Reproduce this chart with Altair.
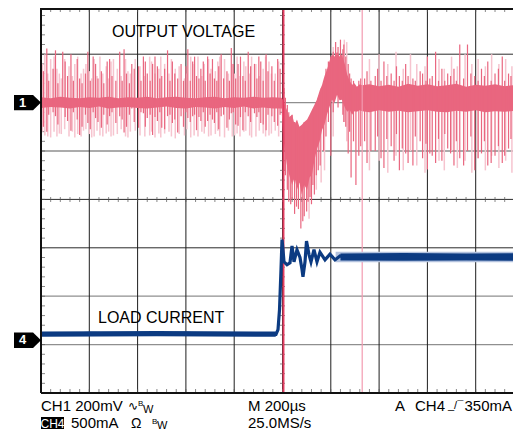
import altair as alt
import pandas as pd

# ---------------- data (screen divisions: x 0..10 at 200 us/div, y 0..8) ----------------
# CH1 (output voltage) dense trace envelope
ch1_band_x = [0, 0.2, 0.4, 0.6, 0.8, 1.0, 1.2, 1.4, 1.6, 1.8, 2.0, 2.2, 2.4, 2.6, 2.8,
              3.0, 3.2, 3.4, 3.6, 3.8, 4.0, 4.2, 4.4, 4.6, 4.8,
              4.98,
              5.01, 5.05, 5.09, 5.14, 5.20, 5.25, 5.30, 5.35, 5.40, 5.45,
              5.51, 5.56, 5.61, 5.66, 5.71, 5.77, 5.82, 5.87, 5.92, 5.97,
              6.02, 6.08, 6.13, 6.18, 6.23, 6.29, 6.34, 6.39, 6.44, 6.49,
              6.54, 6.60, 6.65,
              6.8, 7.0, 7.2, 7.4, 7.6, 7.8, 8.0, 8.2, 8.4, 8.6, 8.8, 9.0, 9.2, 9.4, 9.6, 9.8, 10.0]
ch1_band_lo = [5.89, 5.91, 5.90, 5.88, 5.91, 5.89, 5.92, 5.88, 5.90, 5.91,
               5.89, 5.88, 5.90, 5.92, 5.89, 5.88, 5.91, 5.90, 5.88, 5.91,
               5.89, 5.92, 5.88, 5.90, 5.88,
               5.88,
               5.34, 5.00, 4.72, 4.50, 4.30, 4.45, 4.20, 4.35, 4.10, 4.30,
               4.20, 4.45, 4.51, 4.80, 5.03, 5.20, 5.44, 5.55, 5.75, 5.90,
               6.06, 6.00, 6.16, 6.05, 6.06, 5.90, 5.81, 5.85, 5.75, 5.82,
               5.81, 5.84, 5.82,
               5.80, 5.84, 5.81, 5.83, 5.80, 5.82, 5.84, 5.81, 5.80, 5.83, 5.81, 5.84,
               5.80, 5.82, 5.81, 5.83, 5.82]
ch1_band_hi = [6.11, 6.09, 6.12, 6.10, 6.09, 6.11, 6.10, 6.12, 6.09, 6.11,
               6.10, 6.12, 6.09, 6.11, 6.12, 6.10, 6.09, 6.11, 6.12, 6.09,
               6.11, 6.10, 6.12, 6.10, 6.11,
               6.10,
               6.06, 5.95, 5.85, 5.70, 5.75, 5.55, 5.65, 5.50, 5.54, 5.60,
               5.65, 5.75, 5.85, 5.95, 6.06, 6.25, 6.37, 6.55, 6.68, 6.85,
               6.99, 6.95, 7.05, 6.95, 6.99, 6.80, 6.58, 6.45, 6.37, 6.40,
               6.33, 6.38, 6.36,
               6.38, 6.34, 6.37, 6.33, 6.39, 6.35, 6.38, 6.34, 6.36, 6.39, 6.33, 6.37,
               6.35, 6.38, 6.34, 6.36, 6.37]

# CH1 noise spikes (x, top, bottom) - saturated persistence
ch1_dark_spikes = [
    # before the load step
    (0.05, 6.65, 5.50), (0.12, 7.12, 5.40), (0.16, 6.45, 5.75), (0.25, 6.70, 5.80),
    (0.30, 7.08, 5.72), (0.35, 6.40, 5.55), (0.45, 7.05, 5.95), (0.50, 6.85, 5.70),
    (0.55, 6.55, 5.62), (0.62, 7.00, 5.42), (0.67, 6.45, 5.80), (0.75, 6.90, 5.65),
    (0.80, 6.50, 5.33), (0.85, 6.40, 5.50), (0.92, 6.60, 5.75), (0.97, 7.05, 5.58),
    (1.02, 6.45, 5.45), (1.08, 6.95, 5.80), (1.13, 6.80, 5.68), (1.18, 6.50, 5.60),
    (1.25, 6.65, 5.48), (1.30, 6.40, 5.75), (1.37, 6.85, 5.55), (1.42, 6.90, 5.72),
    (1.47, 6.55, 5.80), (1.55, 6.45, 5.58), (1.63, 7.05, 5.72), (1.68, 6.45, 5.65),
    (1.72, 7.10, 5.38), (1.77, 6.60, 5.50), (1.83, 6.40, 5.75), (1.88, 6.80, 5.88),
    (1.93, 6.70, 5.60), (2.02, 6.75, 5.48), (2.07, 6.45, 5.80), (2.12, 6.95, 5.78),
    (2.16, 6.85, 5.50), (2.20, 6.60, 5.68), (2.26, 6.45, 5.75), (2.31, 6.80, 5.33),
    (2.36, 6.95, 5.70), (2.41, 6.75, 5.62), (2.46, 6.50, 5.80), (2.50, 6.55, 5.48),
    (2.56, 6.70, 5.45), (2.62, 7.08, 5.72), (2.67, 6.45, 5.75), (2.72, 6.85, 5.58),
    (2.77, 6.60, 5.65), (2.83, 6.50, 5.38), (2.90, 6.80, 5.72), (2.95, 6.45, 5.50),
    (3.00, 6.75, 5.80), (3.04, 7.10, 5.68), (3.09, 6.45, 5.60), (3.14, 6.85, 5.72),
    (3.18, 6.95, 5.75), (3.22, 6.55, 5.43), (3.27, 6.50, 5.70), (3.31, 6.70, 5.62),
    (3.36, 6.85, 5.80), (3.40, 6.45, 5.50), (3.45, 6.95, 5.62), (3.50, 6.60, 5.75),
    (3.55, 6.90, 5.65), (3.59, 6.50, 5.58), (3.64, 6.45, 5.80), (3.68, 6.75, 5.45),
    (3.73, 7.00, 5.72), (3.78, 6.50, 5.75), (3.85, 6.65, 5.48), (3.90, 6.45, 5.65),
    (3.94, 7.13, 5.78), (3.98, 6.80, 5.80), (4.03, 6.50, 5.55), (4.08, 6.80, 5.52),
    (4.13, 6.95, 5.70), (4.18, 6.55, 5.43), (4.23, 6.45, 5.80), (4.29, 7.05, 5.72),
    (4.34, 6.75, 5.60), (4.42, 6.80, 5.78), (4.47, 6.50, 5.70), (4.51, 6.95, 5.80),
    (4.55, 6.85, 5.58), (4.60, 6.45, 5.55), (4.66, 7.00, 5.43), (4.70, 6.65, 5.75),
    (4.78, 6.75, 5.72), (4.83, 6.45, 5.60), (4.90, 6.90, 5.52), (4.95, 6.70, 5.75),
    # load-step transient
    (5.03, 6.30, 4.60), (5.06, 6.10, 4.50), (5.10, 5.95, 4.20), (5.13, 5.80, 3.95),
    (5.17, 5.50, 3.90), (5.20, 5.75, 4.00), (5.25, 5.60, 3.70), (5.29, 5.50, 3.85),
    (5.33, 5.45, 3.80), (5.38, 5.20, 3.40), (5.42, 5.40, 3.55), (5.45, 5.60, 3.65),
    (5.50, 5.40, 3.75), (5.53, 5.50, 3.95), (5.57, 5.65, 4.05), (5.60, 5.60, 3.90),
    (5.63, 5.85, 4.30), (5.66, 5.70, 4.10), (5.70, 6.00, 4.50), (5.74, 6.10, 4.60),
    (5.78, 6.20, 4.70), (5.85, 6.45, 5.00), (5.90, 6.70, 5.30), (5.95, 6.85, 5.60),
    (6.00, 6.95, 4.90), (6.05, 7.05, 5.80), (6.10, 7.25, 6.30), (6.15, 7.15, 5.90),
    (6.20, 7.30, 6.25), (6.25, 7.10, 5.75), (6.27, 7.20, 5.60), (6.31, 6.95, 5.50),
    (6.36, 6.80, 4.95), (6.39, 6.60, 5.40), (6.42, 6.50, 4.45), (6.47, 6.45, 5.20),
    (6.52, 6.30, 4.30), (6.58, 6.45, 4.90), (6.62, 6.50, 5.10),
    # after the transient
    (6.70, 6.50, 5.20), (6.75, 6.65, 4.75), (6.83, 6.45, 5.00), (6.92, 6.55, 5.00),
    (6.97, 6.70, 5.30), (7.04, 6.45, 4.85), (7.10, 6.85, 4.65), (7.16, 6.55, 5.25),
    (7.25, 6.60, 5.10), (7.31, 6.45, 4.80), (7.36, 6.75, 5.35), (7.42, 6.55, 4.60),
    (7.48, 6.45, 5.05), (7.55, 6.80, 4.95), (7.60, 6.55, 4.75), (7.70, 6.50, 4.70),
    (7.75, 6.45, 5.30), (7.85, 6.65, 5.20), (7.90, 6.60, 4.85), (7.97, 6.45, 5.15),
    (8.00, 6.95, 4.62), (8.05, 6.50, 4.95), (8.10, 6.55, 4.90), (8.17, 7.05, 4.75),
    (8.23, 6.45, 5.25), (8.30, 6.70, 4.80), (8.36, 6.45, 5.35), (8.42, 6.60, 5.05),
    (8.48, 6.55, 4.95), (8.55, 6.70, 4.70), (8.60, 6.45, 5.20), (8.67, 7.20, 4.85),
    (8.75, 6.50, 4.70), (8.83, 7.20, 5.00), (8.90, 6.60, 5.30), (8.98, 6.55, 4.60),
    (9.05, 6.45, 4.85), (9.12, 6.70, 4.95), (9.18, 6.55, 5.20), (9.25, 6.85, 4.70),
    (9.32, 6.45, 4.75), (9.40, 6.60, 4.90), (9.47, 6.70, 5.10), (9.55, 6.95, 4.75),
    (9.60, 6.45, 4.90), (9.68, 6.60, 5.05), (9.73, 6.55, 5.25), (9.80, 6.90, 4.60),
    (9.86, 6.45, 4.80), (9.92, 7.20, 4.90),
]
# CH1 faint persistence spikes (x, top, bottom)
ch1_light_spikes = [
    (0.03, 6.80, 5.40), (0.08, 7.00, 5.32), (0.14, 6.60, 5.30), (0.20, 6.90, 5.28),
    (0.27, 6.95, 5.40), (0.33, 6.70, 5.30), (0.38, 6.60, 5.36), (0.42, 6.50, 5.35),
    (0.49, 6.90, 5.45), (0.58, 6.75, 5.30), (0.65, 6.55, 5.40), (0.70, 6.80, 5.28),
    (0.76, 6.95, 5.35), (0.83, 6.60, 5.30), (0.88, 6.70, 5.42), (0.93, 6.80, 5.45),
    (1.00, 6.65, 5.35), (1.05, 6.50, 5.28), (1.10, 6.90, 5.30), (1.16, 6.55, 5.42),
    (1.22, 6.95, 5.32), (1.28, 6.60, 5.30), (1.35, 6.75, 5.36), (1.40, 6.50, 5.40),
    (1.45, 6.85, 5.30), (1.50, 6.90, 5.32), (1.58, 6.70, 5.35), (1.66, 6.55, 5.45),
    (1.75, 6.90, 5.30), (1.80, 6.65, 5.28), (1.85, 6.60, 5.40), (1.95, 6.90, 5.42),
    (2.05, 6.75, 5.32), (2.15, 6.55, 5.30), (2.25, 6.95, 5.32), (2.29, 6.85, 5.40),
    (2.36, 6.60, 5.28), (2.44, 6.70, 5.36), (2.48, 6.95, 5.28), (2.56, 6.80, 5.36),
    (2.65, 6.60, 5.40), (2.70, 6.90, 5.30), (2.78, 6.70, 5.26), (2.86, 6.75, 5.35),
    (2.97, 6.50, 5.32), (3.02, 6.60, 5.45), (3.10, 6.95, 5.28), (3.17, 6.80, 5.32),
    (3.25, 6.95, 5.30), (3.33, 6.55, 5.40), (3.38, 6.80, 5.36), (3.47, 6.90, 5.30),
    (3.52, 6.70, 5.32), (3.61, 6.65, 5.35), (3.66, 6.85, 5.42), (3.70, 6.95, 5.30),
    (3.80, 6.90, 5.28), (3.88, 6.60, 5.42), (3.96, 6.80, 5.30), (4.01, 6.60, 5.32),
    (4.06, 6.95, 5.36), (4.12, 6.55, 5.30), (4.20, 6.85, 5.40), (4.24, 6.75, 5.42),
    (4.32, 6.60, 5.32), (4.36, 6.95, 5.28), (4.45, 6.80, 5.30), (4.52, 6.55, 5.42),
    (4.60, 6.70, 5.36), (4.65, 6.95, 5.30), (4.72, 6.85, 5.32), (4.77, 6.60, 5.36),
    (4.85, 6.60, 5.42), (4.92, 6.85, 5.30),
    (5.55, 5.50, 3.60), (5.70, 5.90, 4.20), (5.80, 6.30, 4.35), (5.87, 6.50, 4.60),
    (6.05, 7.15, 5.30), (6.28, 7.30, 5.60), (6.33, 7.25, 5.20),
    (6.80, 6.90, 4.60), (7.00, 7.00, 4.80), (7.18, 6.80, 4.55), (7.35, 7.05, 4.90),
    (7.50, 6.70, 4.60), (7.65, 7.00, 5.00), (7.78, 6.80, 4.70), (7.95, 6.75, 4.55),
    (8.24, 6.90, 4.80), (8.35, 6.70, 4.60), (8.50, 6.95, 5.00), (8.62, 6.75, 4.65),
    (8.78, 7.00, 4.80), (8.92, 6.80, 4.55), (9.05, 6.90, 4.85), (9.20, 6.75, 4.60),
    (9.33, 7.00, 4.90), (9.48, 6.80, 4.65), (9.62, 6.90, 4.80), (9.75, 6.75, 4.55),
    (9.88, 6.95, 4.85),
]

# CH4 (load current) trace
ch4_x = [0, 0.5, 1.0, 1.5, 2.0, 2.5, 3.0, 3.5, 4.0, 4.5,
         4.865, 4.907, 4.938, 4.969, 4.990, 5.010, 5.031, 5.093, 5.155, 5.197, 5.238,
         5.300, 5.362, 5.404, 5.424, 5.466, 5.497, 5.549, 5.590, 5.652, 5.714, 5.776,
         5.880, 5.983, 6.087, 6.190, 6.398,
         6.8, 7.2, 7.6, 8.0, 8.4, 8.8, 9.2, 9.6, 10.0]
ch4_y = [1.22, 1.21, 1.23, 1.22, 1.21, 1.22, 1.23, 1.21, 1.22, 1.22,
         1.21, 1.31, 1.72, 2.55, 3.17, 2.96, 2.71, 2.65, 2.69, 3.04, 2.71,
         2.96, 2.80, 2.55, 2.40, 2.71, 3.14, 2.86, 2.71, 2.96, 2.71, 2.91,
         2.75, 2.87, 2.75, 2.83, 2.79,
         2.81, 2.79, 2.82, 2.80, 2.79, 2.81, 2.80, 2.82, 2.80]
ch4_band_seg = ["pre", "pre", "pre", "post", "post", "post", "post"]
ch4_band_x = [0, 2.4, 4.86, 6.2, 7.5, 8.8, 10.0]
ch4_band_lo = [1.16, 1.17, 1.16, 2.74, 2.73, 2.74, 2.73]
ch4_band_hi = [1.27, 1.28, 1.27, 2.88, 2.89, 2.88, 2.89]
ch4_halo_x = [6.1, 10.0]
ch4_halo_lo = [2.70, 2.70]
ch4_halo_hi = [2.92, 2.92]

trigger_x = [5.02]
cursor_x = [6.65]
channel_levels = [6.0, 1.09]
channel_names = ["1", "4"]

grid_x = [1, 2, 3, 4, 5, 6, 7, 8, 9]
grid_y_dark = [3, 4, 7]
grid_y_gray = [1, 2, 5, 6]
minor_x = [round(0.2 * i, 1) for i in range(1, 50)]
minor_y = [round(0.2 * i, 1) for i in range(1, 40)]

# ---------------- styling ----------------
PINK = "#E9667F"
PINK_LIGHT = "#F6C4CF"
TRIG = "#E43D61"
CURSOR = "#F39BB0"
BLUE = "#0C3B82"
BLUE_LIGHT = "#B3C2DE"
FONT = "Liberation Sans"

PLOT_W = 472
PLOT_H = 385
XS = alt.Scale(domain=[0, PLOT_W / 48.3], nice=False, zero=False)
YS = alt.Scale(domain=[0, PLOT_H / 48.4], nice=False, zero=False)


def X(f):
    return alt.X(f, type="quantitative", scale=XS, axis=None)


def Y(f):
    return alt.Y(f, type="quantitative", scale=YS, axis=None)


band_df = pd.DataFrame({"x": ch1_band_x, "lo": ch1_band_lo, "hi": ch1_band_hi})
dark_df = pd.DataFrame(ch1_dark_spikes, columns=["x", "hi", "lo"])
light_df = pd.DataFrame(ch1_light_spikes, columns=["x", "hi", "lo"])
ch4_df = pd.DataFrame({"x": ch4_x, "y": ch4_y})
ch4_band_df = pd.DataFrame({"seg": ch4_band_seg, "x": ch4_band_x,
                            "lo": ch4_band_lo, "hi": ch4_band_hi})
ch4_halo_df = pd.DataFrame({"x": ch4_halo_x, "lo": ch4_halo_lo, "hi": ch4_halo_hi})
ch_df = pd.DataFrame({"level": channel_levels, "name": channel_names})

layers = []

# grid
layers.append(alt.Chart(pd.DataFrame({"y": grid_y_gray})).mark_rule(
    color="#8f8f8f", strokeWidth=1.3).encode(y=Y("y")))
layers.append(alt.Chart(pd.DataFrame({"y": grid_y_dark})).mark_rule(
    color="#2a2a2a", strokeWidth=1).encode(y=Y("y")))
layers.append(alt.Chart(pd.DataFrame({"x": grid_x})).mark_rule(
    color="#1e1e1e", strokeWidth=1).encode(x=X("x")))

# minor ticks
mx = pd.DataFrame({"x": minor_x})
my = pd.DataFrame({"y": minor_y})
layers.append(alt.Chart(mx).mark_tick(orient="vertical", size=4, thickness=1, color="#555")
              .encode(x=X("x"), y=alt.value(PLOT_H - 2)))
layers.append(alt.Chart(mx).mark_tick(orient="vertical", size=4, thickness=1, color="#555")
              .encode(x=X("x"), y=alt.value(2)))
layers.append(alt.Chart(mx).mark_tick(orient="vertical", size=5, thickness=1, color="#555")
              .encode(x=X("x"), y=alt.YDatum(4, scale=YS, axis=None)))
layers.append(alt.Chart(my).mark_tick(orient="horizontal", size=4, thickness=1, color="#555")
              .encode(y=Y("y"), x=alt.value(2)))
layers.append(alt.Chart(my).mark_tick(orient="horizontal", size=5, thickness=1, color="#555")
              .encode(y=Y("y"), x=alt.XDatum(5, scale=XS, axis=None)))

# CH1
layers.append(alt.Chart(light_df).mark_rule(color=PINK_LIGHT, strokeWidth=1.5)
              .encode(x=X("x"), y=Y("lo"), y2="hi"))
layers.append(alt.Chart(band_df).mark_area(color=PINK, opacity=1)
              .encode(x=X("x"), y=Y("lo"), y2="hi"))
layers.append(alt.Chart(dark_df).mark_rule(color=PINK, strokeWidth=1.2)
              .encode(x=X("x"), y=Y("lo"), y2="hi"))

# cursors
layers.append(alt.Chart(pd.DataFrame({"x": cursor_x})).mark_rule(color=CURSOR, strokeWidth=1.2)
              .encode(x=X("x")))
layers.append(alt.Chart(pd.DataFrame({"x": trigger_x})).mark_rule(color=TRIG, strokeWidth=2)
              .encode(x=X("x")))

# CH4
layers.append(alt.Chart(ch4_halo_df).mark_area(color=BLUE_LIGHT, opacity=1)
              .encode(x=X("x"), y=Y("lo"), y2="hi"))
layers.append(alt.Chart(ch4_band_df).mark_area(color=BLUE, opacity=1)
              .encode(x=X("x"), y=Y("lo"), y2="hi", detail="seg:N"))
layers.append(alt.Chart(ch4_df).mark_line(color=BLUE, strokeWidth=3.2)
              .encode(x=X("x"), y=Y("y")))

# frame
layers.append(alt.Chart(pd.DataFrame({"x": [0]})).mark_rule(color="#111", strokeWidth=2)
              .encode(x=X("x")))
layers.append(alt.Chart(pd.DataFrame({"y": [0]})).mark_rule(color="#111", strokeWidth=2)
              .encode(y=Y("y")))
layers.append(alt.Chart(pd.DataFrame({"y": [0]})).mark_rule(color="#111", strokeWidth=2)
              .encode(y=alt.value(1)))

# channel markers
MARK_PATH = "M-1,-0.567L0.41,-0.567L1,0L0.41,0.567L-1,0.567Z"
layers.append(alt.Chart(ch_df).mark_point(shape=MARK_PATH, size=729, filled=True,
                                          color="black", opacity=1, strokeWidth=0)
              .encode(x=alt.value(-13.5), y=Y("level")))
layers.append(alt.Chart(ch_df).mark_text(color="white", fontWeight="bold", fontSize=13,
                                         font=FONT, align="center", baseline="middle")
              .encode(x=alt.value(-18.5), y=Y("level"), text="name:N"))


def txt(s, x, y, size=15, color="black", font=FONT, weight="normal", align="left"):
    return alt.Chart(pd.DataFrame({"t": [s]})).mark_text(
        fontSize=size, color=color, font=font, fontWeight=weight, align=align,
        baseline="alphabetic").encode(x=alt.value(x), y=alt.value(y), text="t:N")


layers.append(txt("OUTPUT VOLTAGE", 71, 28.7, size=16))
layers.append(txt("LOAD CURRENT", 57, 314.7, size=16))

# bottom status lines
L1 = 403
L2 = 420
layers.append(txt("CH1 200mV", 0, L1))
layers.append(txt("\u223f", 87, L1 - 1, size=12, font="DejaVu Sans"))
layers.append(txt("B", 97, L1 - 5, size=8))
layers.append(txt("W", 102, L1 + 2, size=11))
layers.append(txt("M 200\u00b5s", 207, L1))
layers.append(txt("A", 354, L1))
layers.append(txt("CH4", 374, L1))
layers.append(txt("_/\u00af", 407, L1 - 2, size=11))
layers.append(txt("350mA", 471, L1, align="right"))

layers.append(alt.Chart(pd.DataFrame({"t": ["CH4"]})).mark_rect(color="black")
              .encode(x=alt.value(0), x2=alt.value(23), y=alt.value(L2 - 11), y2=alt.value(L2 + 1)))
layers.append(txt("CH4", 11.5, L2, size=12, color="white", align="center"))
layers.append(txt("500mA", 30, L2))
layers.append(txt("\u03a9", 90, L2, size=14))
layers.append(txt("B", 111, L2 - 4, size=8))
layers.append(txt("W", 116, L2 + 1, size=11))
layers.append(txt("25.0MS/s", 207, L2))

chart = alt.layer(*layers).properties(
    width=PLOT_W,
    height=PLOT_H,
    autosize=alt.AutoSizeParams(type="none"),
    padding={"left": 33, "top": 0, "right": 0, "bottom": 40},
    background="white",
).configure_view(stroke=None)

chart.save("out.html", embed_options={"renderer": "svg", "actions": False})
